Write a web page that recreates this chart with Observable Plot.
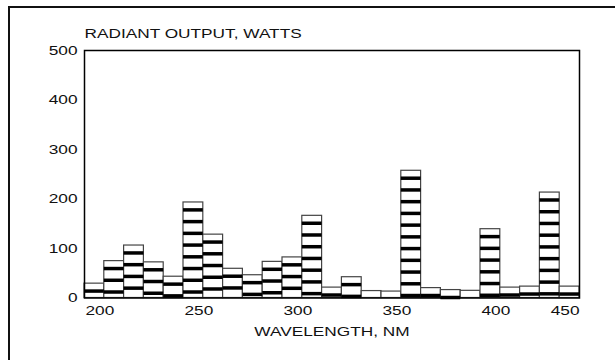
<!DOCTYPE html>
<html><head><meta charset="utf-8">
<script src="https://cdn.jsdelivr.net/npm/d3@7"></script>
<script src="https://cdn.jsdelivr.net/npm/@observablehq/plot@0.6"></script>
<style>
html,body{margin:0;padding:0;background:#fff;}
#wrap{position:relative;width:615px;height:360px;overflow:hidden;}
#wrap svg{position:absolute;left:0;top:0;}
#border{position:absolute;left:8px;top:6px;width:700px;height:400px;border-left:2px solid #111;border-top:2px solid #111;pointer-events:none;}
</style></head><body><div id="wrap"></div>
<script>
// Data
const wavelengths = [200,210,220,230,240,250,260,270,280,290,300,310,320,330,340,350,360,370,380,390,400,410,420,430,440];
const watts       = [29,74.5,106,72,43,193,128,59,46,73,82,166,21,42,14,13,257,20,16,14.5,139,21,23,213,23];
const binWidth = 10;
const yTicks = [0,100,200,300,400,500];
const xTicks = [200,250,300,350,400,450];
const yTitle = "RADIANT OUTPUT, WATTS";
const xTitle = "WAVELENGTH, NM";

const bars = wavelengths.map((w,i)=>({w, w2: w+binWidth, v: watts[i]}));
// decorative horizontal banding anchored at each bar's top
const stripeOffset = 15, stripeStep = 23.7;
const stripes = [];
for (const b of bars) {
  for (let s = b.v - stripeOffset; s > 0; s -= stripeStep) stripes.push({x1: b.w, x2: b.w2, y: s});
}

const plot = Plot.plot({
  width: 615, height: 360,
  marginLeft: 84, marginRight: 36, marginTop: 50, marginBottom: 62.5,
  x: {domain: [200, 450]},
  y: {domain: [0, 500]},
  style: {fontFamily: "'Liberation Sans', Arial, sans-serif", fontSize: "12.5px", color: "#111", background: "transparent"},
  marks: [
    Plot.rectY(bars, {x1: "w", x2: "w2", y1: 0, y2: "v", fill: "white", stroke: "#444", strokeWidth: 1.2}),
    Plot.ruleY(stripes, {y: "y", x1: "x1", x2: "x2", stroke: "#000", strokeWidth: 3.5}),
    Plot.frame({stroke: "#000", strokeWidth: 1.5}),
    Plot.axisY({ticks: yTicks, tickSize: 0, tickPadding: 7, label: null}),
    Plot.axisX({ticks: xTicks.slice(0, -1), tickSize: 0, tickPadding: 8, textAnchor: "start", dx: 1, label: null}),
    Plot.axisX({ticks: xTicks.slice(-1), tickSize: 0, tickPadding: 8, textAnchor: "end", label: null}),
    Plot.text([yTitle], {frameAnchor: "top-left", textAnchor: "start", lineAnchor: "middle", dy: -17, fontSize: 12.5}),
    Plot.text([xTitle], {frameAnchor: "bottom", lineAnchor: "middle", dy: 34, fontSize: 12.5})
  ]
});
const wrap = document.getElementById("wrap");
wrap.appendChild(plot);
const border = document.createElement("div");
border.id = "border";
wrap.appendChild(border);
// the reference uses a wide (extended) sans face: stretch glyphs horizontally
plot.querySelectorAll("text").forEach(t => {
  const L = t.getComputedTextLength();
  if (L > 0) {
    t.setAttribute("textLength", (L * 1.38).toFixed(1));
    t.setAttribute("lengthAdjust", "spacingAndGlyphs");
  }
});
</script>
</body></html>
